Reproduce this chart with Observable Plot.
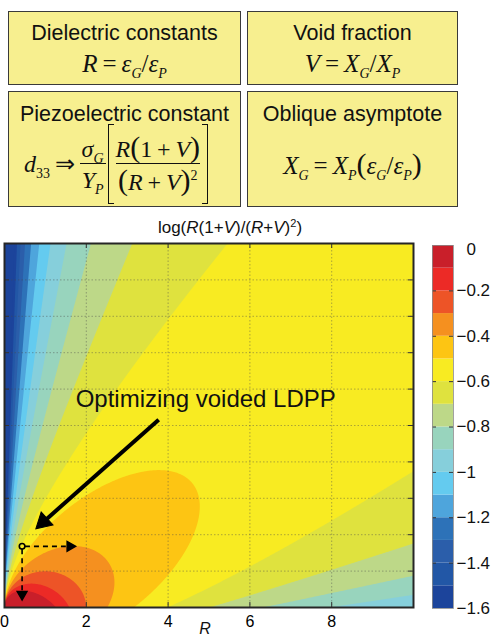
<!DOCTYPE html>
<html>
<head>
<meta charset="utf-8">
<script src="https://cdn.jsdelivr.net/npm/d3@7"></script>
<script src="https://cdn.jsdelivr.net/npm/@observablehq/plot@0.6"></script>
<style>
  html, body { margin:0; padding:0; background:#fff; }
  body { width:493px; height:637px; position:relative; overflow:hidden; }
  .box { position:absolute; background:#f7ef8f; border:1.5px solid #3a3a3a; box-sizing:border-box; }
  .t { position:absolute; left:0; right:0; text-align:center; font-family:"Liberation Sans", Arial, Helvetica, sans-serif; font-size:21.5px; line-height:24px; height:24px; color:#111; white-space:nowrap; }
  .m { position:absolute; left:0; right:0; text-align:center; font-family:"Liberation Serif","Times New Roman",serif; font-size:25px; line-height:28px; color:#111; white-space:nowrap; }
  .m i { font-style:italic; }
  .m sub { font-size:14px; vertical-align:-6px; line-height:0; }
  .m sup { font-size:14px; vertical-align:10px; line-height:0; }
  .frac { display:inline-flex; flex-direction:column; align-items:center; vertical-align:middle; }
  .frac .num { padding:0 2px 1px 2px; line-height:26px; }
  .frac .den { border-top:1.2px solid #111; padding:3px 2px 0 2px; line-height:26px; }
  .brk { display:inline-block; vertical-align:middle; width:5px; height:78px; border-top:1.3px solid #111; border-bottom:1.3px solid #111; }
  .brk.l { border-left:1.3px solid #111; }
  .brk.r { border-right:1.3px solid #111; }
  .big { font-size:30px; }
  #title { position:absolute; left:0; width:460px; top:218px; text-align:center; font-family:"Liberation Sans", Arial, Helvetica, sans-serif; font-size:17px; line-height:20px; color:#111; }
  #title sup { font-size:11px; vertical-align:6px; line-height:0; }
  #main { position:absolute; left:0; top:215px; }
  #cbar { position:absolute; left:420px; top:215px; }
</style>
</head>
<body>
<div class="box" style="left:8px;top:11px;width:233px;height:74px;">
  <div class="t" style="top:9px;">Dielectric constants</div>
  <div class="m" style="top:38px;"><i>R</i>&thinsp;=&thinsp;<i>ε</i><sub><i>G</i></sub>/<i>ε</i><sub><i>P</i></sub></div>
</div>
<div class="box" style="left:247px;top:11px;width:211px;height:74px;">
  <div class="t" style="top:9px;">Void fraction</div>
  <div class="m" style="top:38px;"><i>V</i>&thinsp;=&thinsp;<i>X</i><sub><i>G</i></sub>/<i>X</i><sub><i>P</i></sub></div>
</div>
<div class="box" style="left:8px;top:91px;width:233px;height:116px;">
  <div class="t" style="top:10px;">Piezoelectric constant</div>
  <div class="m" style="top:31px;left:15px;right:auto;text-align:left;display:flex;align-items:center;height:82px;font-size:24px;">
    <span><i>d</i><sub>33</sub>&thinsp;⇒&thinsp;</span>
    <span class="frac"><span class="num"><i>σ</i><sub><i>G</i></sub></span><span class="den"><i>Y</i><sub><i>P</i></sub></span></span>
    <span class="brk l" style="margin-left:2px;"></span>
    <span class="frac"><span class="num"><i>R</i><span class="big">(</span>1&thinsp;+&thinsp;<i>V</i><span class="big">)</span></span><span class="den"><span class="big">(</span><i>R</i>&thinsp;+&thinsp;<i>V</i><span class="big">)</span><sup>2</sup></span></span>
    <span class="brk r"></span>
  </div>
</div>
<div class="box" style="left:247px;top:91px;width:211px;height:116px;">
  <div class="t" style="top:10px;">Oblique asymptote</div>
  <div class="m" style="top:58px;"><i>X</i><sub><i>G</i></sub>&thinsp;=&thinsp;<i>X</i><sub><i>P</i></sub><span class="big">(</span><i>ε</i><sub><i>G</i></sub>/<i>ε</i><sub><i>P</i></sub><span class="big">)</span></div>
</div>
<div id="title">log(<i>R</i>(1+<i>V</i>)/(<i>R</i>+<i>V</i>)<sup>2</sup>)</div>
<div id="main"></div>
<div id="cbar"></div>
<script>
// ---- data ----
const levels = [-1.6, -1.5, -1.4, -1.3, -1.2, -1.1, -1, -0.9, -0.8, -0.7, -0.6, -0.5, -0.4, -0.3, -0.2, -0.1];
const bandColors = ["#1c449b", "#2257a6", "#2b5eaa", "#2d72b8", "#4ea5dc", "#64cbef", "#86cfdb", "#98d4bd",
                    "#bdd888", "#dfe23e", "#f8eb22", "#fdc513", "#f5901f", "#ed5427", "#ec2a26", "#c91f2a"];
const Rextent = [0, 10];
const Vextent = [0, 10];
const xTicks = [0, 2, 4, 6, 8];
const xGrid = [2, 4, 6, 8];
const yGrid = [1, 2, 3, 4, 5, 6, 7, 8, 9];
const cbTicks = [0, -0.2, -0.4, -0.6, -0.8, -1, -1.2, -1.4, -1.6];
const cbLabels = ["0", "−0.2", "−0.4", "−0.6", "−0.8", "−1", "−1.2", "−1.4", "−1.6"];
const annotationText = ["Optimizing voided LDPP"];
const annotationTextPos = [{R: 1.74, V: 5.71}];
const annotationArrow = [{R1: 3.77, V1: 5.16, R2: 0.95, V2: 2.35}];
const annotationArrowTip = [{R: 0.95, V: 2.35}];
const designPoint = [{R: 0.43, V: 1.68}];
const dashH = [{R1: 0.5, V1: 1.68, R2: 1.5, V2: 1.68}];
const dashHTip = [{R: 1.6, V: 1.68}];
const dashV = [{R1: 0.43, V1: 1.6, R2: 0.43, V2: 0.45}];
const dashVTip = [{R: 0.43, V: 0.36}];

// the plotted quantity, as given in the chart title: log(R(1+V)/(R+V)^2)
function field(R, V) {
  const f = Math.log10(R * (1 + V) / ((R + V) * (R + V)));
  if (!isFinite(f)) return -2;
  return Math.max(-2, Math.min(1, f));
}

const font = '"Liberation Sans", Arial, Helvetica, sans-serif';

const main = Plot.plot({
  width: 420,
  height: 422,
  marginLeft: 4,
  marginRight: 7,
  marginTop: 28,
  marginBottom: 30,
  style: {fontFamily: font, fontSize: "16px", background: "transparent", overflow: "visible"},
  x: {domain: Rextent, axis: null},
  y: {domain: Vextent, axis: null},
  color: {type: "ordinal", domain: levels, range: bandColors},
  marks: [
    Plot.frame({fill: bandColors[0]}),
    Plot.contour({
      x1: Rextent[0], x2: Rextent[1], y1: Vextent[0], y2: Vextent[1],
      value: field,
      thresholds: levels,
      fill: "value",
      stroke: null,
      pixelSize: 1
    }),
    Plot.ruleX(xGrid, {stroke: "#4a4a4a", strokeOpacity: 0.55, strokeDasharray: "1.5,2", strokeWidth: 0.8}),
    Plot.ruleY(yGrid, {stroke: "#4a4a4a", strokeOpacity: 0.55, strokeDasharray: "1.5,2", strokeWidth: 0.8}),
    Plot.tickX(xGrid, {x: d => d, insetTop: 359, stroke: "#333", strokeWidth: 1}),
    Plot.tickX(xGrid, {x: d => d, insetBottom: 359, stroke: "#333", strokeWidth: 1}),
    Plot.tickY(yGrid, {y: d => d, insetRight: 404, stroke: "#333", strokeWidth: 1}),
    Plot.tickY(yGrid, {y: d => d, insetLeft: 404, stroke: "#333", strokeWidth: 1}),
    Plot.frame({stroke: "#262626", strokeWidth: 2}),
    Plot.axisX({ticks: xTicks, tickSize: 0, tickPadding: 8, fontSize: 16, label: null, tickFormat: d => String(d)}),
    Plot.text(["R"], {frameAnchor: "bottom", dy: 21, dx: -4, lineAnchor: "middle", fontSize: 16, fontStyle: "italic", fill: "#111"}),
    // annotation
    Plot.text(annotationTextPos, {x: "R", y: "V", text: () => annotationText[0], textAnchor: "start", lineAnchor: "middle", fontSize: 24, fill: "#111"}),
    Plot.link(annotationArrow, {x1: "R1", y1: "V1", x2: "R2", y2: "V2", stroke: "#000", strokeWidth: 4}),
    Plot.dot(annotationArrowTip, {x: "R", y: "V", symbol: "triangle", r: 6.5, fill: "#000", stroke: "#000", strokeWidth: 1, rotate: 227.6}),
    Plot.link(dashH, {x1: "R1", y1: "V1", x2: "R2", y2: "V2", stroke: "#000", strokeWidth: 1.6, strokeDasharray: "5,4"}),
    Plot.dot(dashHTip, {x: "R", y: "V", symbol: "triangle", r: 3.6, fill: "#000", stroke: "#000", rotate: 90}),
    Plot.link(dashV, {x1: "R1", y1: "V1", x2: "R2", y2: "V2", stroke: "#000", strokeWidth: 1.6, strokeDasharray: "5,4"}),
    Plot.dot(dashVTip, {x: "R", y: "V", symbol: "triangle", r: 3.6, fill: "#000", stroke: "#000", rotate: 180}),
    Plot.dot(designPoint, {x: "R", y: "V", r: 2.8, stroke: "#000", strokeWidth: 1.6, fill: "none"})
  ]
});
document.getElementById("main").appendChild(main);

const cb = Plot.plot({
  width: 73,
  height: 422,
  marginLeft: 12,
  marginRight: 40,
  marginTop: 30,
  marginBottom: 29,
  style: {fontFamily: font, fontSize: "17px", background: "transparent", overflow: "visible"},
  x: {axis: null},
  y: {domain: [-1.6, 0], axis: null},
  marks: [
    Plot.barY(levels, {y1: d => d, y2: d => Math.round((d + 0.1) * 10) / 10, fill: (d, i) => bandColors[i]}),
    Plot.tickY(cbTicks.slice(1, -1), {y: d => d, insetLeft: 17, stroke: "#333", strokeWidth: 1}),
    Plot.tickY(cbTicks.slice(1, -1), {y: d => d, insetRight: 17, stroke: "#333", strokeWidth: 1}),
    Plot.frame({stroke: "#8a8a8a", strokeWidth: 0.8}),
    Plot.text(cbTicks.slice(0, 1), {y: d => d, frameAnchor: "right", dx: 13, dy: 4, textAnchor: "start", text: (d, i) => cbLabels[0], fontSize: 17, fill: "#111"}),
    Plot.text(cbTicks.slice(1), {y: d => d, frameAnchor: "right", dx: 3, textAnchor: "start", text: (d, i) => cbLabels[i + 1], fontSize: 17, fill: "#111"})
  ]
});
document.getElementById("cbar").appendChild(cb);
</script>
</body>
</html>
